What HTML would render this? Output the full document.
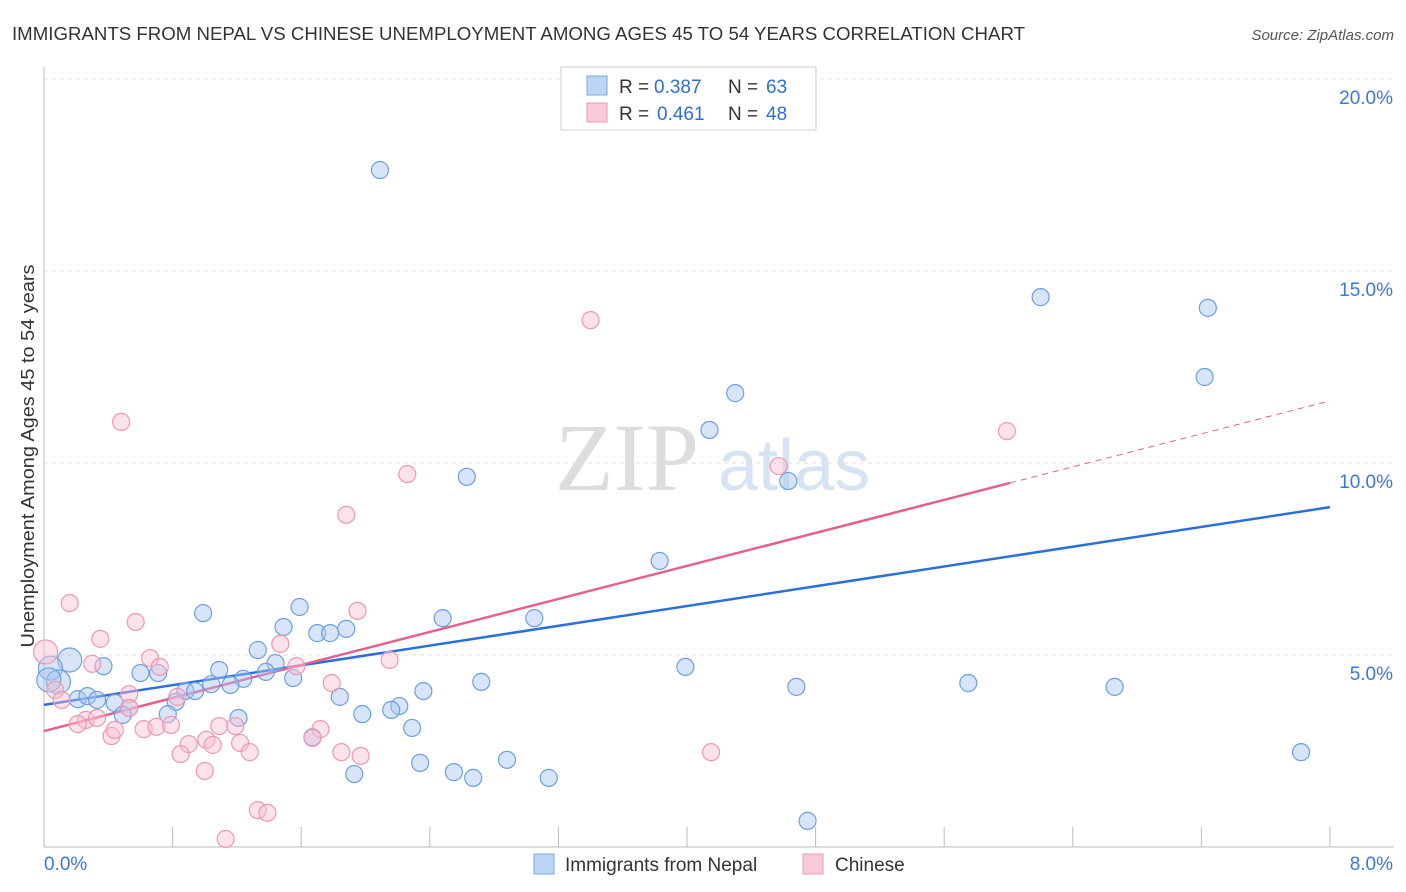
<!DOCTYPE html>
<html><head><meta charset="utf-8"><style>
body{margin:0;background:#fff;font-family:"Liberation Sans",sans-serif;}
#wrap{position:relative;width:1406px;height:892px;overflow:hidden}
</style></head><body>
<div id="wrap">
<svg id="chart" width="1406" height="892" xmlns="http://www.w3.org/2000/svg">
<text x="12" y="40" font-size="18" fill="#333" textLength="1013" lengthAdjust="spacingAndGlyphs">IMMIGRANTS FROM NEPAL VS CHINESE UNEMPLOYMENT AMONG AGES 45 TO 54 YEARS CORRELATION CHART</text>
<text x="1394" y="40" font-size="15" fill="#555" font-style="italic" text-anchor="end">Source: ZipAtlas.com</text>
<text x="555" y="490" font-size="96" fill="#ddd" font-family="Liberation Serif,serif">ZIP</text>
<text x="718" y="490" font-size="72" fill="#d5e3f3">atlas</text>
<text transform="translate(34,456) rotate(-90)" font-size="18" fill="#333" text-anchor="middle" textLength="383" lengthAdjust="spacingAndGlyphs">Unemployment Among Ages 45 to 54 years</text>
<g id="grid"></g><g id="axes"></g><g id="trends"></g><g id="pts"></g>
<g>
<rect x="561" y="67" width="255" height="63" fill="#fff" stroke="#ccc"/>
<rect x="587" y="76" width="20" height="19" fill="#bcd5f5" stroke="#7aa7e0"/>
<rect x="587" y="103" width="20" height="19" fill="#f9c9d8" stroke="#ec9ab5"/>
<text x="619" y="93" font-size="19" fill="#333">R =</text>
<text x="654" y="93" font-size="19" fill="#2d6fd6">0.387</text>
<text x="728" y="93" font-size="19" fill="#333">N =</text>
<text x="766" y="93" font-size="19" fill="#2d6fd6">63</text>
<text x="619" y="120" font-size="19" fill="#333">R =</text>
<text x="657" y="120" font-size="19" fill="#2d6fd6">0.461</text>
<text x="728" y="120" font-size="19" fill="#333">N =</text>
<text x="766" y="120" font-size="19" fill="#2d6fd6">48</text>
</g>
<g>
<rect x="534" y="854" width="20" height="20" fill="#bcd5f5" stroke="#7aa7e0"/>
<text x="565" y="871" font-size="19" fill="#333">Immigrants from Nepal</text>
<rect x="803" y="854" width="20" height="20" fill="#f9c9d8" stroke="#ec9ab5"/>
<text x="835" y="871" font-size="19" fill="#333">Chinese</text>
</g>
</svg></div>
<script>
const xTicks=[0,0.8,1.6,2.4,3.2,4.0,4.8,5.6,6.4,7.2,8.0];
const yTicks=[5,10,15,20];
const yTickLabels=["5.0%","10.0%","15.0%","20.0%"];
const xEndLabels=["0.0%","8.0%"];
const nepalX=[2.09,6.20,7.24,7.22,4.30,4.14,2.63,4.63,3.83,1.59,0.99,3.05,2.48,1.49,1.88,1.70,1.78,1.33,0.16,0.37,3.99,1.09,1.44,0.60,0.71,1.38,1.24,1.55,1.04,1.16,5.75,6.66,4.68,2.72,0.04,0.09,2.36,0.88,0.94,0.21,0.27,0.33,1.84,0.44,0.53,0.82,2.21,2.16,1.98,0.49,0.77,1.21,2.29,1.67,2.88,2.34,7.82,2.55,2.67,3.14,1.93,4.75,0.03];
const nepalY=[17.63,14.32,14.04,12.24,11.82,10.86,9.64,9.53,7.45,6.25,6.09,5.96,5.96,5.73,5.68,5.57,5.57,5.13,4.87,4.71,4.69,4.61,4.79,4.53,4.53,4.56,4.38,4.40,4.24,4.22,4.27,4.17,4.17,4.30,4.66,4.30,4.06,4.06,4.06,3.85,3.93,3.83,3.91,3.75,3.62,3.78,3.67,3.57,3.46,3.44,3.46,3.36,3.10,2.86,2.27,2.19,2.47,1.95,1.80,1.80,1.90,0.68,4.35];
const chineseX=[3.40,0.48,2.26,1.88,4.57,5.99,0.16,1.95,0.57,0.35,1.47,0.30,0.66,0.72,1.57,2.15,0.01,0.07,0.53,0.83,1.79,0.11,0.53,0.26,0.21,0.33,0.42,0.44,0.62,0.70,0.79,1.09,1.19,0.90,1.01,1.05,1.22,1.28,0.85,1.72,1.67,1.85,1.97,4.15,1.00,1.33,1.39,1.13];
const chineseY=[13.72,11.07,9.71,8.65,9.92,10.83,6.35,6.15,5.86,5.42,5.29,4.77,4.92,4.69,4.71,4.87,5.08,4.09,3.98,3.91,4.27,3.83,3.62,3.31,3.20,3.36,2.89,3.05,3.07,3.13,3.18,3.15,3.15,2.68,2.79,2.66,2.71,2.47,2.42,3.07,2.84,2.47,2.37,2.47,1.98,0.96,0.89,0.21];
const nepalTrend=[3.70,8.85];
const chineseTrend=[3.02,1.075];
const X=v=>44+v/8*1286, Y=v=>847-v*38.4;
const NS="http://www.w3.org/2000/svg";
function mk(t,a,p){const e=document.createElementNS(NS,t);for(const k in a)e.setAttribute(k,a[k]);p.appendChild(e);return e;}
const grid=document.getElementById('grid'),axes=document.getElementById('axes'),tr=document.getElementById('trends'),pts=document.getElementById('pts');
yTicks.forEach((t,i)=>{
 const l=mk('line',{x1:44,x2:1394,y1:Y(t),y2:Y(t),stroke:'#ddd','stroke-dasharray':'4,4'},grid);
 
 
 const tx=mk('text',{x:1393,y:Y(t)+25,'font-size':19,fill:'#3a78d8','text-anchor':'end'},axes);tx.textContent=yTickLabels[i];
 
 
});
const ya=mk('line',{x1:44,x2:44,y1:67,y2:847,stroke:'#bbb'},axes);


const xa=mk('line',{x1:44,x2:1394,y1:847,y2:847,stroke:'#bbb'},axes);


xTicks.forEach(t=>{const l=mk('line',{x1:X(t),x2:X(t),y1:827,y2:847,stroke:'#bbb'},axes);
 
 });
const xl0=mk('text',{x:44,y:870,'font-size':19,fill:'#3a78d8'},axes);xl0.textContent=xEndLabels[0];


const xl1=mk('text',{x:1393,y:870,'font-size':19,fill:'#3a78d8','text-anchor':'end'},axes);xl1.textContent=xEndLabels[1];


for(let i=0;i<nepalX.length;i++){const c=mk('circle',{cx:X(nepalX[i]),cy:Y(nepalY[i]),r:nepalX[i]<0.2?12:8.5,fill:'rgba(168,198,240,0.45)',stroke:'#6d9fe0','stroke-width':1.2},pts);
 
 }
for(let i=0;i<chineseX.length;i++){const c=mk('circle',{cx:X(chineseX[i]),cy:Y(chineseY[i]),r:chineseX[i]<0.05?12:8.5,fill:'rgba(248,190,208,0.45)',stroke:'#ec98b4','stroke-width':1.2},pts);
 
 }
const bt=mk('line',{x1:X(0),y1:Y(nepalTrend[0]),x2:X(8),y2:Y(nepalTrend[1]),stroke:'#2b6fd8','stroke-width':2.5},tr);


const pEnd=6.01;
const pt=mk('line',{x1:X(0),y1:Y(chineseTrend[0]),x2:X(pEnd),y2:Y(chineseTrend[0]+chineseTrend[1]*pEnd),stroke:'#e5608c','stroke-width':2.5},tr);


const pd=mk('line',{x1:X(pEnd),y1:Y(chineseTrend[0]+chineseTrend[1]*pEnd),x2:X(8),y2:Y(chineseTrend[0]+chineseTrend[1]*8),stroke:'#e5608c','stroke-width':1,'stroke-dasharray':'6,5'},tr);


</script>
</body></html>
